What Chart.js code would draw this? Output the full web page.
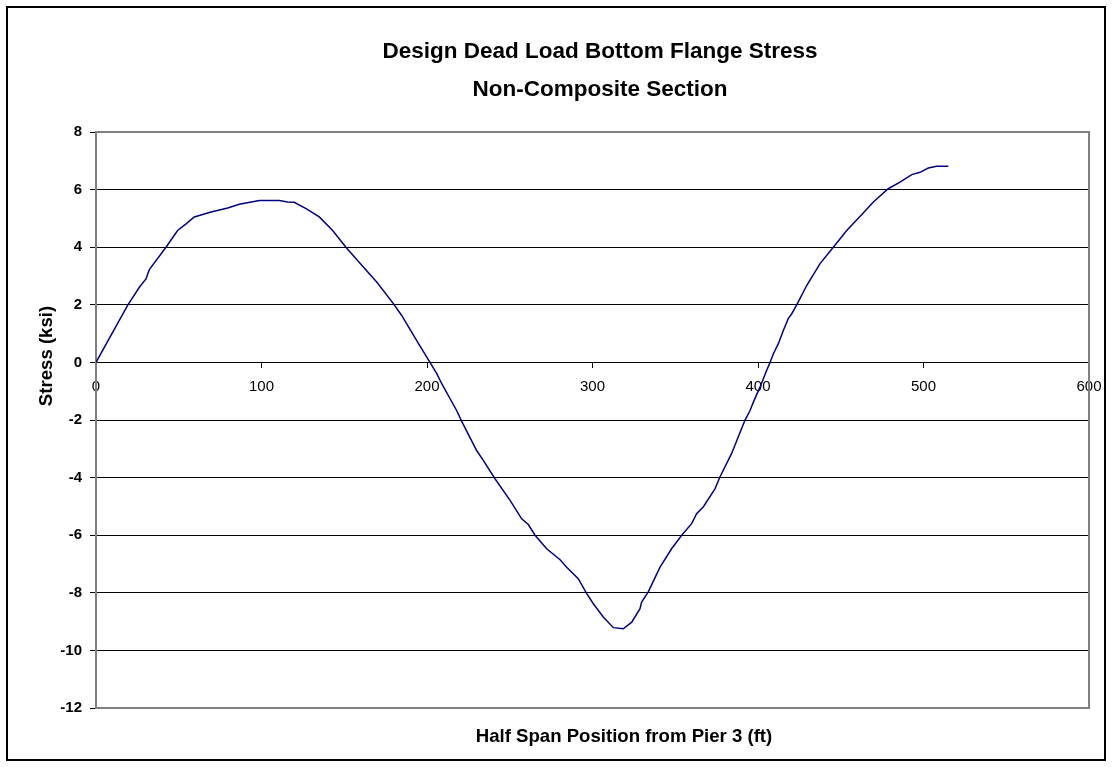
<!DOCTYPE html>
<html>
<head>
<meta charset="utf-8">
<script src="https://cdn.jsdelivr.net/npm/chart.js@4.4.1/dist/chart.umd.min.js"></script>
<style>
  html, body { margin: 0; padding: 0; background: #fff; }
  #wrap { width: 1112px; height: 767px; }
</style>
</head>
<body>
<div id="wrap"><canvas id="c" width="1112" height="767"></canvas></div>
<script>
// ---- data ----
const positionFt = [
  0, 19.1, 26.2, 30.2, 32.2, 42.3, 49.3, 54.4, 59.4, 69.5, 79.6, 86.6, 98.7, 110.8,
  115.8, 119.8, 126.9, 134.9, 143.0, 151.0, 157.1, 169.6, 179.7, 184.7, 193.8, 201.8,
  205.9, 208.9, 217.9, 220.9, 230.0, 234.0, 241.1, 250.2, 257.2, 261.2, 265.3, 272.3,
  280.4, 284.4, 291.4, 296.5, 300.5, 306.5, 312.6, 318.6, 323.7, 328.7, 329.7, 333.7,
  340.8, 347.8, 353.9, 359.9, 362.9, 366.9, 374.0, 377.0, 384.0, 392.1, 395.2, 397.2,
  401.2, 405.2, 407.3, 409.3, 412.3, 415.3, 418.3, 420.4, 423.4, 429.4, 437.5, 445.5,
  453.6, 463.6, 469.7, 478.7, 485.8, 492.9, 497.9, 502.9, 507.9, 515.0
];
const stressKsi = [
  0, 1.98, 2.61, 2.90, 3.22, 4.00, 4.58, 4.81, 5.05, 5.22, 5.36, 5.49, 5.62, 5.62,
  5.57, 5.56, 5.34, 5.05, 4.58, 4.00, 3.60, 2.79, 2.04, 1.63, 0.76, 0.00,
  -0.39, -0.74, -1.67, -2.04, -3.06, -3.40, -4.04, -4.79, -5.43, -5.63, -6.00, -6.47,
  -6.85, -7.11, -7.51, -8.03, -8.38, -8.84, -9.21, -9.25, -9.02, -8.55, -8.32, -7.97,
  -7.11, -6.47, -6.00, -5.60, -5.25, -5.02, -4.39, -3.98, -3.17, -2.01, -1.67, -1.38,
  -0.86, -0.28, 0.00, 0.30, 0.65, 1.11, 1.52, 1.69, 2.00, 2.67, 3.43, 4.00,
  4.58, 5.19, 5.57, 6.03, 6.26, 6.52, 6.60, 6.75, 6.81, 6.81
];
const titleLines = ["Design Dead Load Bottom Flange Stress", "Non-Composite Section"];
const xAxisTitle = "Half Span Position from Pier 3 (ft)";
const yAxisTitle = "Stress (ksi)";
const xRange = [0, 600];
const xStep = 100;
const yRange = [-12, 8];
const yStep = 2;

const FONT = '"Liberation Sans", Arial, Helvetica, sans-serif';

const decor = {
  id: 'decor',
  beforeDraw(chart) {
    const ctx = chart.ctx;
    ctx.save();
    ctx.fillStyle = '#fff';
    ctx.fillRect(0, 0, chart.width, chart.height);
    ctx.restore();
  },
  beforeDatasetsDraw(chart) {
    const a = chart.chartArea, ctx = chart.ctx;
    ctx.save();
    ctx.strokeStyle = '#808080';
    ctx.lineWidth = 2;
    ctx.strokeRect(a.left, a.top, a.right - a.left, a.bottom - a.top);
    ctx.restore();
  },
  afterDraw(chart) {
    const ctx = chart.ctx;
    ctx.save();
    ctx.strokeStyle = '#000';
    ctx.lineWidth = 2;
    ctx.strokeRect(7, 7, chart.width - 14, chart.height - 14);
    ctx.fillStyle = '#000';
    ctx.textAlign = 'center';
    ctx.textBaseline = 'alphabetic';
    ctx.font = 'bold 22.5px ' + FONT;
    ctx.fillText(titleLines[0], 600, 58);
    ctx.fillText(titleLines[1], 600, 96);
    ctx.font = 'bold 18.6px ' + FONT;
    ctx.fillText(xAxisTitle, 624, 742);
    ctx.translate(52, 356);
    ctx.rotate(-Math.PI / 2);
    ctx.fillText(yAxisTitle, 0, 0);
    ctx.restore();
  }
};

new Chart(document.getElementById('c'), {
  type: 'line',
  data: {
    datasets: [{
      label: 'Stress',
      data: positionFt.map((x, i) => ({ x: x, y: stressKsi[i] })),
      borderColor: '#000080',
      borderWidth: 1.5,
      pointRadius: 0,
      tension: 0,
      fill: false
    }]
  },
  options: {
    responsive: false,
    animation: false,
    layout: { padding: { left: 0, right: 23, top: 132, bottom: 59 } },
    plugins: { legend: { display: false }, tooltip: { enabled: false }, title: { display: false } },
    scales: {
      x: {
        type: 'linear',
        position: { y: 0 },
        min: xRange[0], max: xRange[1],
        ticks: { stepSize: xStep, color: '#000', font: { family: FONT, size: 15 }, padding: 10, maxRotation: 0 },
        grid: { drawOnChartArea: false, drawTicks: true, tickLength: 5, color: '#000' },
        border: { display: true, color: '#000', width: 1 }
      },
      y: {
        type: 'linear',
        position: 'left',
        min: yRange[0], max: yRange[1],
        afterFit(scale) { scale.width = 96; },
        ticks: { stepSize: yStep, color: '#000', font: { family: FONT, size: 15, weight: 'bold' }, padding: 8 },
        grid: { color: '#000', lineWidth: 1, drawTicks: true, tickLength: 6 },
        border: { display: true, color: '#808080', width: 2 }
      }
    }
  },
  plugins: [decor]
});
</script>
</body>
</html>
